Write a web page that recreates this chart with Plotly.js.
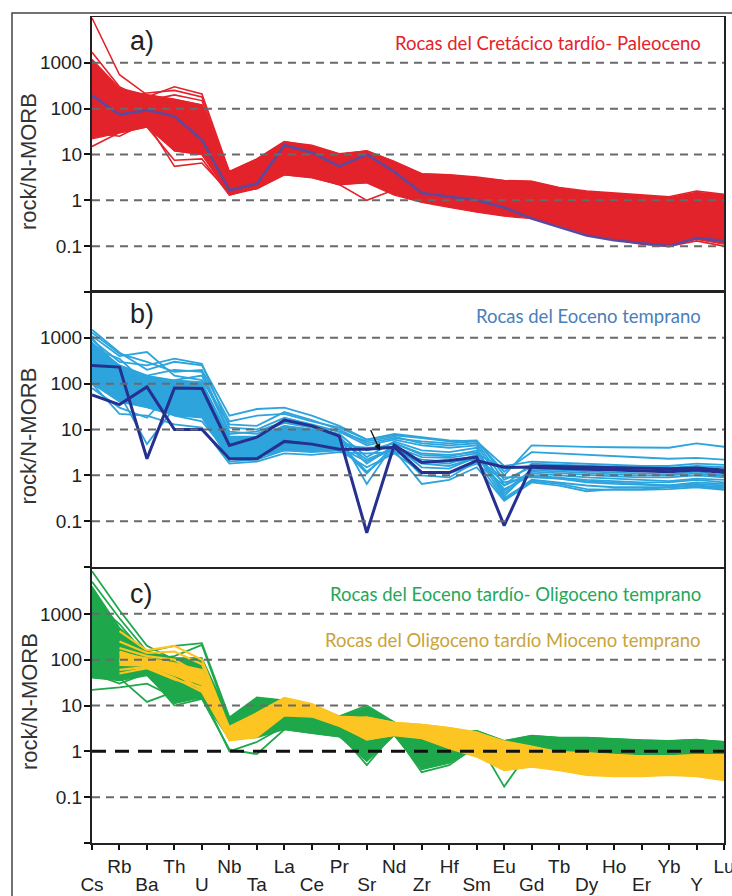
<!DOCTYPE html>
<html><head><meta charset="utf-8">
<script src="https://cdn.plot.ly/plotly-3.0.1.min.js"></script>
<style>html,body{margin:0;padding:0;background:#fff}#chart{width:732px;height:896px}</style>
</head><body><div id="chart"></div>
<script>
// ---------- categories & ticks ----------
const elements = ['Cs','Rb','Ba','Th','U','Nb','Ta','La','Ce','Pr','Sr','Nd','Zr','Hf','Sm','Eu','Gd','Tb','Dy','Ho','Er','Yb','Y','Lu'];
const yTickVals = [0.01, 0.1, 1, 10, 100, 1000];
const yTickText = ['', '0.1', '1', '10', '100', '1000'];
const gridVals = [0.1, 1, 10, 100, 1000];
const yTitle = 'rock/N-MORB';
const panelLabels = ['a)', 'b)', 'c)'];
const groupNames = ['Rocas del Cretácico tardío- Paleoceno', 'Rocas del Eoceno temprano',
  'Rocas del Eoceno tardío- Oligoceno temprano', 'Rocas del Oligoceno tardío Mioceno temprano'];

// ---------- panel a: Late Cretaceous - Paleocene (red) ----------
const aBandUpper = [1200, 280, 200, 160, 120, 4.3, 8, 19, 16, 10.5, 12, 7, 3.8, 3.6, 3.1, 2.7, 2.6, 1.85, 1.55, 1.4, 1.28, 1.15, 1.5, 1.3];
const aBandLower = [22, 30, 40, 12, 10, 1.3, 1.8, 3.6, 3.1, 2.2, 2.4, 1.3, 0.9, 0.7, 0.55, 0.45, 0.4, 0.28, 0.18, 0.14, 0.12, 0.105, 0.14, 0.11];
const aRed01 = [9500, 550, 200, 160, 120, 3.5, 6, 15, 13, 8.5, 10, 6, 3.0, 2.8, 2.6, 2.2, 2.2, 1.7, 1.5, 1.3, 1.2, 1.1, 1.4, 1.2];
const aRed02 = [300, 200, 180, 300, 210, 4.2, 8, 19, 15, 10, 12, 7, 3.8, 3.6, 3.2, 2.7, 2.6, 1.9, 1.6, 1.45, 1.3, 1.2, 1.6, 1.35];
const aRed03 = [500, 180, 220, 250, 180, 3.8, 7, 17, 14, 9.5, 11, 6.5, 3.5, 3.3, 3.0, 2.5, 2.4, 1.8, 1.5, 1.35, 1.25, 1.1, 1.45, 1.25];
const aRed04 = [1700, 300, 150, 200, 150, 3.2, 6, 14, 12, 8, 9, 5.5, 3.0, 2.9, 2.6, 2.2, 2.1, 1.5, 1.3, 1.15, 1.05, 0.95, 1.2, 1.05];
const aRed05 = [80, 90, 120, 100, 60, 2.5, 5, 12, 10, 6.5, 8, 4.5, 2.5, 2.4, 2.1, 1.8, 1.7, 1.2, 1.0, 0.9, 0.8, 0.75, 0.95, 0.8];
const aRed06 = [40, 60, 100, 40, 25, 2.0, 4, 10, 8, 5, 6.5, 3.5, 2.0, 1.9, 1.7, 1.4, 1.3, 0.9, 0.75, 0.65, 0.6, 0.55, 0.7, 0.6];
const aRed07 = [30, 25, 50, 5.5, 6.5, 1.5, 2.5, 5, 4.5, 3, 4, 2.5, 1.5, 1.3, 1.2, 1.0, 0.9, 0.6, 0.5, 0.45, 0.4, 0.38, 0.45, 0.4];
const aRed08 = [15, 30, 40, 7.5, 8, 1.3, 1.9, 4, 3.4, 2.2, 2.5, 1.5, 1.0, 0.8, 0.65, 0.55, 0.45, 0.35, 0.25, 0.2, 0.17, 0.16, 0.2, 0.17];
const aRed09 = [60, 45, 60, 12, 10, 1.4, 1.8, 3.6, 3.2, 2.2, 1.0, 1.7, 1.1, 0.9, 0.8, 0.6, 0.5, 0.35, 0.28, 0.22, 0.19, 0.18, 0.22, 0.2];
const aRed10 = [100, 70, 80, 30, 15, 1.8, 3, 7, 6, 4, 5, 3, 1.8, 1.6, 1.4, 1.1, 0.95, 0.7, 0.55, 0.5, 0.45, 0.42, 0.5, 0.45];
const aRed11 = [200, 110, 90, 60, 20, 1.6, 2.2, 13, 9, 4.5, 7, 3, 1.4, 1.1, 0.9, 0.65, 0.45, 0.3, 0.19, 0.14, 0.11, 0.1, 0.13, 0.1];
const aRed12 = [1000, 250, 180, 120, 90, 3.0, 5.5, 13, 11, 7, 8.5, 5, 2.8, 2.6, 2.3, 1.9, 1.8, 1.3, 1.1, 1.0, 0.9, 0.85, 1.05, 0.9];
const aRed13 = [400, 140, 130, 80, 40, 2.2, 4.5, 9, 7.5, 5.5, 6, 4, 2.2, 2.0, 1.8, 1.5, 1.4, 1.0, 0.85, 0.75, 0.7, 0.65, 0.8, 0.7];
const aPurple = [195, 74, 93, 68, 21, 1.65, 2.3, 16, 11, 5.5, 10, 4.2, 1.45, 1.2, 1.0, 0.7, 0.4, 0.26, 0.17, 0.135, 0.115, 0.1, 0.15, 0.13];

// ---------- panel b: Early Eocene (blue) ----------
const bBandUpper = [800, 250, 150, 120, 110, 7, 7, 12, 10, 7.5, null, null, null, null, null, null, null, null, null, null, null, null, null, null];
const bBandLower = [100, 40, 30, 20, 18, 2.2, 2.5, 3.5, 3.3, 3.5, null, null, null, null, null, null, null, null, null, null, null, null, null, null];
const bBlue01 = [1500, 480, 200, 300, 250, 20, 28, 30, 20, 12, 6, 7.5, 6.5, 5.5, 5.8, 1.0, 4.5, 4.3, 4.2, 4.1, 4.0, 4.0, 5.0, 4.2];
const bBlue02 = [1100, 400, 490, 150, 120, 13, 12, 24, 16, 10, 5, 6.5, 5.5, 5, 5.5, 1.2, 3.2, 3.0, 2.8, 2.6, 2.4, 2.3, 2.4, 2.2];
const bBlue03 = [900, 300, 250, 350, 270, 11, 10, 18, 13, 9, 4.5, 6, 4.5, 4, 4.5, 0.6, 1.8, 1.7, 1.6, 1.55, 1.5, 1.45, 1.6, 1.5];
const bBlue04 = [700, 250, 150, 200, 180, 9, 8, 14, 11, 8, 2.5, 5.5, 3.5, 3.2, 4, 0.35, 1.4, 1.3, 1.2, 1.15, 1.1, 1.05, 1.2, 1.0];
const bBlue05 = [500, 200, 120, 100, 90, 7, 7, 12, 10, 7.5, 0.65, 5, 2.8, 2.6, 3.5, 0.4, 1.2, 1.1, 1.0, 0.95, 0.9, 0.9, 1.0, 0.9];
const bBlue06 = [400, 160, 100, 60, 70, 6, 6, 10, 9, 7, 1.8, 4.5, 1.5, 1.4, 2.5, 0.5, 1.0, 0.9, 0.8, 0.75, 0.7, 0.7, 0.8, 0.7];
const bBlue07 = [300, 120, 80, 40, 50, 5, 5, 8, 7.5, 6, 2.2, 4, 1.0, 0.9, 2.0, 0.3, 0.8, 0.7, 0.6, 0.55, 0.55, 0.55, 0.6, 0.55];
const bBlue08 = [200, 90, 60, 25, 20, 3, 3.5, 6, 5.5, 5, 1.2, 3.5, 0.65, 0.8, 1.5, 0.28, 0.7, 0.6, 0.45, 0.5, 0.5, 0.55, 0.6, 0.5];
const bBlue09 = [150, 60, 4.8, 30, 25, 2, 2.2, 3.5, 3.2, 3.5, 1.5, 3, 1.2, 1.1, 1.8, 0.6, 1.1, 1.0, 0.9, 0.85, 0.8, 0.75, 0.85, 0.8];
const bBlue10 = [100, 22, 20, 13, 11, 1.8, 2.0, 3.0, 2.8, 3.2, 3, 3.2, 2.2, 2.0, 2.2, 0.9, 0.9, 0.85, 0.75, 0.7, 0.65, 0.6, 0.7, 0.65];
const bBlue11 = [80, 30, 18, 80, 60, 2.5, 3, 5, 4.5, 4.5, 4, 4.2, 2.5, 2.4, 3, 1.4, 1.6, 1.5, 1.4, 1.35, 1.3, 1.25, 1.35, 1.3];
const bBlue12 = [600, 350, 100, 120, 150, 8, 9, 15, 12, 9, 5.5, 7, 5, 4.5, 5, 0.8, 1.5, 1.45, 1.4, 1.3, 1.25, 1.2, 1.3, 1.2];
const bBlue13 = [1000, 200, 70, 50, 40, 4, 4, 7, 6, 5.5, 3.5, 5, 3, 2.8, 3.2, 0.45, 1.3, 1.2, 1.1, 1.05, 1.0, 1.0, 1.1, 0.95];
const bBlue14 = [250, 100, 40, 20, 15, 2.8, 2.8, 4, 3.8, 4, 2, 3.8, 1.8, 1.6, 2.4, 0.7, 0.95, 0.85, 0.7, 0.65, 0.62, 0.6, 0.65, 0.6];
const bBlue15 = [1300, 450, 300, 180, 200, 15, 20, 22, 15, 11, 6, 8, 6.8, 5.8, 5.5, 1.6, 2.0, 1.9, 1.8, 1.7, 1.6, 1.6, 1.8, 1.7];
const bBlue16 = [350, 150, 90, 35, 30, 3.5, 3.2, 5.5, 5, 4.5, 1.1, 4.5, 2.0, 1.8, 2.8, 0.32, 0.75, 0.65, 0.5, 0.48, 0.48, 0.5, 0.55, 0.48];
const bNavy1 = [250, 230, 2.3, 80, 78, 4.5, 6.8, 16, 12, 7.2, 0.056, 4.6, 1.9, 2.1, 2.5, 0.08, 1.6, 1.55, 1.5, 1.45, 1.4, 1.4, 1.45, 1.3];
const bNavy2 = [57, 35, 85, 10, 10, 2.3, 2.3, 5.5, 4.8, 3.7, 3.7, 4.1, 1.15, 1.15, 2.1, 1.5, 1.5, 1.4, 1.35, 1.3, 1.25, 1.2, 1.3, 1.15];

// ---------- panel c: Late Eocene - Early Oligocene (green) ----------
const cGreenUpper = [4000, 500, 150, 110, 110, 5.5, 14, 13, 10, 5.8, 9, 4.3, 2.6, 2.3, 2.8, 1.7, 2.2, 2.0, 2.0, 1.85, 1.75, 1.7, 1.8, 1.6];
const cGreenLower = [40, 35, 45, 11, 15, 1.8, 2.0, 3.0, 2.5, 2.1, 0.6, 2.2, 0.4, 0.55, 1.2, 0.45, 0.7, 0.85, 0.8, 0.75, 0.72, 0.72, 0.75, 0.85];
const cGreen01 = [8500, 1200, 200, 100, 90, 4, 10, 12, 9, 5.5, 8, 4, 2.5, 2.2, 2.7, 1.6, 2.1, 1.95, 1.95, 1.8, 1.7, 1.65, 1.75, 1.6];
const cGreen02 = [5000, 800, 150, 200, 230, 5.5, 15, 13, 10, 5.8, 10, 4.3, 2.6, 2.3, 2.8, 1.7, 2.2, 2.0, 2.0, 1.85, 1.75, 1.7, 1.8, 1.6];
const cGreen03 = [3000, 400, 100, 120, 210, 4.5, 12, 11, 8.5, 5, 9, 3.8, 2.2, 2.0, 2.5, 1.5, 1.9, 1.8, 1.75, 1.65, 1.6, 1.55, 1.65, 1.5];
const cGreen04 = [1000, 200, 80, 60, 50, 3, 6, 8, 6, 4.5, 4, 3.5, 1.6, 1.4, 2.2, 1.2, 1.6, 1.5, 1.45, 1.4, 1.35, 1.3, 1.4, 1.3];
const cGreen05 = [300, 100, 60, 30, 25, 2.5, 4, 5.5, 4.5, 3.5, 1.5, 3, 0.6, 0.7, 1.8, 0.17, 1.2, 1.2, 1.15, 1.1, 1.05, 1.0, 1.1, 1.0];
const cGreen06 = [100, 40, 12, 20, 18, 1.0, 1.6, 3.5, 3.0, 2.5, 0.5, 2.5, 0.35, 0.5, 1.3, 0.45, 0.9, 0.95, 0.9, 0.85, 0.8, 0.8, 0.85, 0.9];
const cGreen07 = [22, 25, 30, 15, 14, 1.1, 0.87, 3.0, 2.5, 2.1, 0.9, 2.3, 0.45, 0.6, 1.4, 0.5, 1.0, 1.0, 0.95, 0.9, 0.85, 0.85, 0.9, 0.95];
const cGreen08 = [50, 30, 50, 10, 14, 2, 2.2, 4, 3.5, 2.8, 1.2, 2.8, 0.8, 0.9, 1.6, 0.7, 1.3, 1.35, 1.3, 1.25, 1.2, 1.2, 1.25, 1.2];
const cGreen09 = [2000, 600, 120, 90, 100, 5, 14, 13, 9, 5.5, 9, 4.2, 2.4, 2.2, 2.8, 1.6, 2.0, 1.9, 1.9, 1.8, 1.7, 1.65, 1.7, 1.55];
const cGreen10 = [500, 150, 70, 40, 40, 3.5, 8, 9, 7, 4.8, 5, 3.8, 1.9, 1.8, 2.5, 1.3, 1.7, 1.65, 1.6, 1.55, 1.5, 1.45, 1.55, 1.4];

// ---------- panel c: Late Oligocene - Early Miocene (gold) ----------
const cGoldUpper = [null, 140, 110, 85, 55, 3.5, 7, 15, 11, 5.9, 5.5, 4.3, 3.9, 3.3, 2.6, 1.7, 1.3, 0.98, 0.93, 0.85, 0.8, 0.8, 0.85, 0.85];
const cGoldLower = [null, 75, 72, 45, 28, 1.7, 2.0, 5.9, 5.6, 3.5, 1.8, 2.2, 1.9, 1.15, 0.75, 0.38, 0.45, 0.38, 0.3, 0.28, 0.28, 0.3, 0.28, 0.23];
const cGold01 = [null, 420, 160, 200, 100, 3.2, 6.5, 14, 10, 5.5, 5, 4, 3.6, 3.0, 2.4, 1.6, 1.2, 0.95, 0.9, 0.82, 0.78, 0.78, 0.82, 0.8];
const cGold02 = [null, 150, 100, 80, 60, 3.0, 5, 12, 9, 5, 4, 3.8, 3.2, 2.5, 2.0, 1.2, 1.0, 0.8, 0.7, 0.65, 0.62, 0.62, 0.65, 0.6];
const cGold03 = [null, 60, 70, 40, 20, 1.8, 2.5, 7, 6, 4, 2, 2.5, 2.2, 1.6, 1.0, 0.5, 0.55, 0.45, 0.38, 0.35, 0.34, 0.35, 0.34, 0.3];
const cGold04 = [null, 100, 80, 60, 30, 2.2, 3.5, 9, 7.5, 4.5, 3, 3.0, 2.6, 2.0, 1.5, 0.8, 0.75, 0.6, 0.5, 0.45, 0.42, 0.42, 0.45, 0.38];
const cGold05 = [null, 180, 120, 100, 45, 2.5, 4, 10, 8, 4.8, 5.5, 4.2, 3.8, 3.2, 2.6, 1.5, 1.1, 0.85, 0.75, 0.7, 0.68, 0.68, 0.7, 0.65];
const cGold06 = [null, 50, 65, 37, 25, 2.0, 3, 8, 6.5, 3.8, 1.8, 2.3, 2.0, 1.3, 0.8, 0.4, 0.5, 0.4, 0.32, 0.3, 0.3, 0.32, 0.3, 0.25];
const cGold07 = [null, 250, 140, 150, 80, 2.8, 5.5, 13, 10, 5.2, 4.5, 3.6, 3.0, 2.6, 2.2, 1.4, 1.1, 0.9, 0.8, 0.75, 0.72, 0.7, 0.75, 0.7];
const cGold08 = [null, 90, 90, 50, 22, 1.9, 2.8, 8.5, 7, 4.2, 2.5, 2.7, 2.4, 1.8, 1.2, 0.6, 0.65, 0.5, 0.42, 0.4, 0.38, 0.4, 0.38, 0.33];

// ---------- styles ----------
const RED = '#e3232b', PURPLE = '#5a4a9f', LBLUE = '#2ea4dd', NAVY = '#25308f', GREEN = '#1ea84b', GOLD = '#fcc522';
const FONT = 'Liberation Sans, Arial, sans-serif';
const TXTFONT = 'Lato, Open Sans, sans-serif';

function lineTrace(vals, color, width, xa, ya) {
  const xs = [], ys = [];
  vals.forEach((v, i) => { if (v !== null) { xs.push(i); ys.push(v); } });
  return {type: 'scatter', mode: 'lines', x: xs, y: ys, xaxis: xa, yaxis: ya,
    line: {color: color, width: width}, hoverinfo: 'skip', showlegend: false};
}
function band(lower, upper, color, xa, ya) {
  const lo = lineTrace(lower, color, 1.2, xa, ya);
  const up = lineTrace(upper, color, 1.2, xa, ya);
  up.fill = 'tonexty'; up.fillcolor = color;
  return [lo, up];
}

const traces = [];
// panel a
traces.push(...band(aBandLower, aBandUpper, RED, 'x', 'y'));
[aRed01, aRed02, aRed03, aRed04, aRed05, aRed06, aRed07, aRed08, aRed09, aRed10, aRed11, aRed12, aRed13]
  .forEach(s => traces.push(lineTrace(s, RED, 1.6, 'x', 'y')));
traces.push(lineTrace(aPurple, PURPLE, 2.6, 'x', 'y'));
// panel b
traces.push(...band(bBandLower, bBandUpper, LBLUE, 'x2', 'y2'));
[bBlue01, bBlue02, bBlue03, bBlue04, bBlue05, bBlue06, bBlue07, bBlue08, bBlue09, bBlue10, bBlue11, bBlue12, bBlue13, bBlue14, bBlue15, bBlue16]
  .forEach(s => traces.push(lineTrace(s, LBLUE, 1.8, 'x2', 'y2')));
traces.push(lineTrace(bNavy2, NAVY, 3, 'x2', 'y2'));
traces.push(lineTrace(bNavy1, NAVY, 3, 'x2', 'y2'));
// panel c
traces.push(...band(cGreenLower, cGreenUpper, GREEN, 'x3', 'y3'));
[cGreen01, cGreen02, cGreen03, cGreen04, cGreen05, cGreen06, cGreen07, cGreen08, cGreen09, cGreen10]
  .forEach(s => traces.push(lineTrace(s, GREEN, 1.8, 'x3', 'y3')));
traces.push(...band(cGoldLower, cGoldUpper, GOLD, 'x3', 'y3'));
[cGold01, cGold02, cGold03, cGold04, cGold05, cGold06, cGold07, cGold08]
  .forEach(s => traces.push(lineTrace(s, GOLD, 2.2, 'x3', 'y3')));
traces.push({type: 'scatter', x: [], y: [], xaxis: 'x4', yaxis: 'y3', showlegend: false, hoverinfo: 'skip'});

// ---------- axes ----------
const idx = elements.map((_, i) => i);
function yAxis(domain) {
  return {type: 'log', range: [-2, 4], domain: domain, tickvals: yTickVals, ticktext: yTickText,
    ticks: 'outside', ticklen: 6, tickwidth: 2, tickcolor: '#111', showgrid: false, zeroline: false,
    showline: true, mirror: true, linecolor: '#222', linewidth: 2, ticklabelstandoff: -2,
    tickfont: {family: FONT, size: 19, color: '#222'}};
}
function xAxis(anchor) {
  return {range: [0, 23], anchor: anchor, showticklabels: false, ticks: '', showgrid: false, zeroline: false,
    showline: true, mirror: true, linecolor: '#222', linewidth: 1.5};
}
const xa3 = xAxis('y3');
Object.assign(xa3, {showticklabels: true, tickvals: idx, ticktext: elements.map((e, i) => i % 2 ? e : ''),
  ticks: 'outside', ticklen: 5, tickwidth: 2, tickcolor: '#111', ticklabelstandoff: 1, ticklabeloverflow: 'allow',
  tickfont: {family: FONT, size: 19, color: '#222'}});
const xa4 = {range: [0, 23], anchor: 'y3', overlaying: 'x3', side: 'bottom', showline: false, showgrid: false, zeroline: false,
  ticks: '', tickvals: idx.filter(i => i % 2 === 0), ticktext: elements.filter((e, i) => i % 2 === 0),
  ticklabelstandoff: 28, ticklabeloverflow: 'allow', tickfont: {family: FONT, size: 19, color: '#222'}};

// ---------- shapes: dashed reference lines drawn above the data ----------
const shapes = [];
['y', 'y2', 'y3'].forEach(ya => {
  gridVals.forEach(v => {
    const strong = (ya === 'y3' && v === 1);
    shapes.push({type: 'line', xref: ya.replace('y', 'x') + ' domain', yref: ya, x0: 0, x1: 1, y0: v, y1: v, layer: 'above',
      line: strong ? {color: '#111', width: 3, dash: '14px,9px'} : {color: '#6a6a6a', width: 2, dash: '8px,6px'}});
  });
});
shapes.push({type: 'rect', xref: 'paper', yref: 'paper', x0: -0.1266, x1: 1.05, y0: -0.2, y1: 1.0048, layer: 'above',
  line: {color: '#444', width: 1.5}});

// ---------- annotations ----------
const ann = [];
const labelY = [0.971, 0.641, 0.3015];
panelLabels.forEach((t, k) => ann.push({text: t, xref: 'paper', yref: 'paper', x: 0.057, y: labelY[k], xanchor: 'left', yanchor: 'middle',
  showarrow: false, font: {family: FONT, size: 27, color: '#222'}}));
const titleY = [0.8257, 0.4933, 0.1719];
titleY.forEach(y => ann.push({text: yTitle, textangle: -90, xref: 'paper', yref: 'paper', x: -0.0997, y: y, xanchor: 'center', yanchor: 'middle',
  showarrow: false, font: {family: FONT, size: 22, color: '#333'}}));
const nameY = [0.968, 0.638, 0.3015, 0.2453];
const nameColor = ['#e3232b', '#4a7ebb', '#26a65b', '#c9a43a'];
groupNames.forEach((t, k) => ann.push({text: t, xref: 'paper', yref: 'paper', x: 0.9668, y: nameY[k], xanchor: 'right', yanchor: 'middle',
  showarrow: false, font: {family: TXTFONT, size: 18.5, color: nameColor[k]}}));
ann.push({text: '', xref: 'x2', yref: 'y2', x: 10.48, y: 0.54, ax: -10, ay: -22, showarrow: true, arrowhead: 2, arrowsize: 1, arrowwidth: 1.3, arrowcolor: '#111'});

const layout = {
  width: 732, height: 896, margin: {l: 92, r: 8, t: 17, b: 53}, paper_bgcolor: '#fff', plot_bgcolor: '#fff',
  showlegend: false, hovermode: false,
  xaxis: xAxis('y'), xaxis2: xAxis('y2'), xaxis3: xa3, xaxis4: xa4,
  yaxis: yAxis([0.6671, 1]), yaxis2: yAxis([0.3341, 0.6671]), yaxis3: yAxis([0, 0.3329]),
  shapes: shapes, annotations: ann
};
Plotly.newPlot('chart', traces, layout, {staticPlot: true, displayModeBar: false});
</script></body></html>
